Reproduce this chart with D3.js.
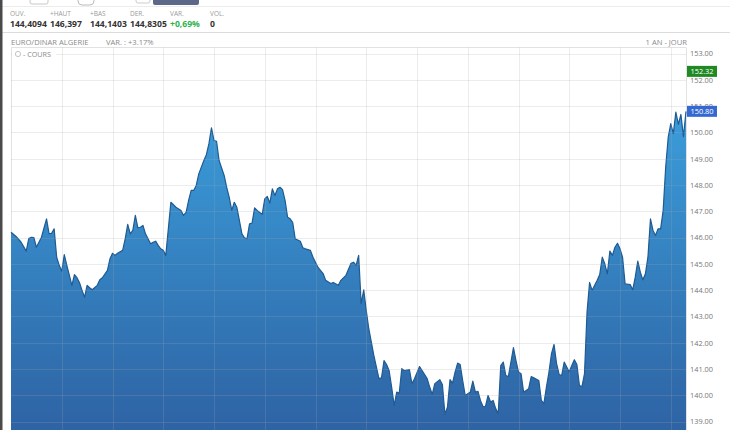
<!DOCTYPE html>
<html>
<head>
<meta charset="utf-8">
<script src="https://cdn.jsdelivr.net/npm/d3@7"></script>
<style>
  body { margin: 0; background: #fff; }
  svg { display: block; font-family: "Open Sans", "Liberation Sans", sans-serif; }
</style>
</head>
<body>
<script>
// séance index (trading days over the year) and closing rate EUR/DZD
let seance = [0,2,4,6,7,8,9,10,11,12,14,15,16,17,18,19,20,21,22,24,25,26,27,28,29,30,31,32,34,35,36,38,39,40,41,42,44,45,46,47,48,49,50,51,52,53,55,56,57,58,59,60,61,63,65,67,68,69,70,71,72,73,74,76,77,78,79,80,81,82,84,85,86,87,88,89,90,91,92,93,94,95,96,97,99,100,101,102,103,104,105,106,107,108,109,110,111,112,114,115,116,118,119,121,123,124,126,127,129,130,132,134,135,136,137,138,139,140,141,142,143,145,146,147,148,149,150,151,152,153,154,155,157,158,159,161,162,164,165,166,167,169,170,171,172,173,174,175,176,177,178,179,181,182,183,184,185,186,187,188,189,190,191,192,193,194,195,196,198,199,200,201,202,203,204,205,206,208,209,210,211,212,213,214,215,216,217,218,220,221,222,223,224,225,226,227,228,229,231,232,233,234,235,236,237,238,239,240,241,242,244,245,246,247,248,249,250,251,252,253,254,255,256,257,258,259,260,261,262,263,264,265,266];
let cours = [146.20,146.04,145.82,145.48,145.96,146.01,146.00,145.63,145.82,146.01,146.71,146.15,146.16,146.33,145.25,144.94,144.72,145.35,144.94,144.18,144.59,144.47,144.28,143.99,143.73,144.18,144.09,144.01,144.18,144.39,144.47,144.75,145.19,145.40,145.32,145.40,145.51,145.95,146.50,146.14,146.27,146.84,146.37,146.39,146.46,146.14,145.76,145.82,145.86,145.70,145.57,145.51,145.32,147.34,147.15,147.03,146.84,146.96,147.41,147.79,147.79,147.98,148.42,148.93,149.15,149.57,150.17,149.69,149.66,148.93,148.36,147.91,147.53,147.03,147.34,147.15,146.65,146.14,145.99,145.95,146.52,146.55,147.13,147.03,146.88,147.47,147.56,147.31,147.85,147.60,147.85,147.91,147.82,147.41,146.77,146.71,146.58,145.95,145.86,145.61,145.57,145.51,145.25,144.86,144.63,144.37,144.25,144.29,144.18,144.37,144.56,145.02,145.06,144.94,145.32,143.48,144.01,143.22,142.53,142.02,141.51,140.63,140.66,141.32,141.17,140.94,140.31,139.61,140.12,140.08,141.01,140.94,140.97,140.44,140.63,141.09,140.94,140.63,140.31,140.03,140.44,140.59,140.41,139.27,139.55,140.59,140.46,140.88,141.22,141.17,140.56,139.99,140.12,140.54,140.12,140.15,139.80,139.57,139.58,139.99,139.74,139.80,139.49,139.30,141.13,141.26,140.75,140.71,141.81,141.32,140.88,140.82,140.12,140.18,140.25,140.71,140.66,140.56,139.80,139.68,140.31,140.88,141.58,141.93,141.20,140.79,140.75,141.26,140.88,141.13,141.35,141.17,140.37,140.33,140.82,143.16,144.29,143.99,144.37,144.59,145.25,145.00,144.62,145.48,145.32,145.63,145.78,145.57,145.25,144.24,144.21,144.01,144.49,145.10,144.68,144.39,144.62,145.25,146.71,146.27,146.08,146.33,146.33,147.03,148.68,149.82,150.33,149.95,150.77,150.30,150.68,149.84,150.80];

let yTicks = [139,140,141,142,143,144,145,146,147,148,149,150,151,152,153];
let statLabels = ["OUV.","+HAUT","+BAS","DER.","VAR.","VOL."];
let statValues = ["144,4094","146,397","144,1403","144,8305","+0,69%","0"];
let plusHaut = 152.32;

let width = 730, height = 430;
let data = seance.map((s,i)=>({s:s, v:cours[i]}));

let svg = d3.select("body")
            .append("svg")
            .attr("width",width)
            .attr("height",height);

let x = d3.scaleLinear().domain([0,266]).range([11,686]);
let y = d3.scaleLinear().domain([139,153]).range([421.5,53.5]);
let statX = d3.scalePoint().domain(statLabels).range([10,210]);

// top toolbar remnants
svg.append("rect").attr("x",30).attr("y",-6).attr("width",18).attr("height",10).attr("rx",2)
   .attr("fill","#fff").attr("stroke","#c8c8c8");
svg.append("rect").attr("x",78).attr("y",-6).attr("width",16).attr("height",11).attr("rx",4)
   .attr("fill","#fff").attr("stroke","#bbb");
svg.append("rect").attr("x",136).attr("y",-6).attr("width",14).attr("height",9).attr("rx",2)
   .attr("fill","#fff").attr("stroke","#ccc");
svg.append("rect").attr("x",153).attr("y",-6).attr("width",46).attr("height",11).attr("rx",2)
   .attr("fill","#5b6887");
svg.append("line").attr("x1",0).attr("x2",width).attr("y1",6.5).attr("y2",6.5)
   .attr("stroke","#ececec");

// stats row
svg.selectAll(".slab").data(statLabels).enter().append("text")
   .attr("x",d=>statX(d)).attr("y",15.5)
   .attr("font-size",6.5).attr("fill","#9a9a9a")
   .text(d=>d);
svg.selectAll(".sval").data(statValues).enter().append("text")
   .attr("x",(d,i)=>statX(statLabels[i])).attr("y",26.5)
   .attr("font-size",8.6).attr("font-weight","bold")
   .attr("fill",(d,i)=>i==4 ? "#2db34a" : "#333")
   .text(d=>d);

svg.append("line").attr("x1",0).attr("x2",width).attr("y1",32.5).attr("y2",32.5)
   .attr("stroke","#dcdcdc");

let hdr = {size:7.6, fill:"#8a8a8a"};
svg.append("text").attr("x",11).attr("y",44.8).attr("font-size",hdr.size).attr("fill",hdr.fill)
   .text("EURO/DINAR ALGERIE");
svg.append("text").attr("x",106).attr("y",44.8).attr("font-size",hdr.size).attr("fill",hdr.fill)
   .text("VAR. : +3.17%");
svg.append("text").attr("x",687).attr("y",44.8).attr("font-size",hdr.size).attr("fill",hdr.fill)
   .attr("text-anchor","end").text("1 AN - JOUR");

// plot frame + grid
svg.append("line").attr("x1",11).attr("x2",686).attr("y1",47.5).attr("y2",47.5).attr("stroke","#e2e2e2");
svg.append("line").attr("x1",686.5).attr("x2",686.5).attr("y1",47.5).attr("y2",height).attr("stroke","#e2e2e2");
svg.append("line").attr("x1",11.5).attr("x2",11.5).attr("y1",47.5).attr("y2",height).attr("stroke","#e2e2e2");

let grad = svg.append("defs").append("linearGradient")
   .attr("id","fillGrad").attr("gradientUnits","userSpaceOnUse")
   .attr("x1",0).attr("x2",0).attr("y1",110).attr("y2",height);
grad.append("stop").attr("offset","0%").attr("stop-color","#3b9dda");
grad.append("stop").attr("offset","100%").attr("stop-color","#2e63a4");

let area = d3.area().x(d=>x(d.s)).y0(height).y1(d=>y(d.v));
let line = d3.line().x(d=>x(d.s)).y(d=>y(d.v));

svg.append("path").datum(data).attr("d",area).attr("fill","url(#fillGrad)");
svg.append("path").datum(data).attr("d",line)
   .attr("fill","none").attr("stroke","#1f5b93").attr("stroke-width",1.2)
   .attr("stroke-linejoin","round");

let grid = svg.append("g").attr("stroke","#aaa").attr("stroke-opacity",0.22);
grid.selectAll("line.h").data(yTicks).enter().append("line")
   .attr("x1",11).attr("x2",686)
   .attr("y1",d=>Math.round(y(d))+0.5).attr("y2",d=>Math.round(y(d))+0.5);
grid.selectAll("line.v").data(d3.range(20,267,20)).enter().append("line")
   .attr("x1",d=>Math.round(x(d))+0.5).attr("x2",d=>Math.round(x(d))+0.5)
   .attr("y1",47.5).attr("y2",height);

// legend
svg.append("rect").attr("x",12).attr("y",49).attr("width",44).attr("height",10).attr("fill","#fff");
svg.append("circle").attr("cx",18).attr("cy",54).attr("r",2.6)
   .attr("fill","#fff").attr("stroke","#c4c4c4");
svg.append("text").attr("x",23).attr("y",56.6).attr("font-size",7.2).attr("fill","#8a8a8a")
   .text("- COURS");

// right axis
let axis = svg.append("g").attr("transform","translate(686,0)")
   .call(d3.axisRight(y).tickValues(yTicks).tickSize(0).tickPadding(4).tickFormat(d3.format(".2f")));
axis.select(".domain").remove();
axis.selectAll("text").attr("font-size",7.4).attr("fill","#777")
   .attr("font-family","'Open Sans', sans-serif");

// price tags (drawn over the axis, as in the source)
let tags = [{v:plusHaut, c:"#1f8a22"}, {v:cours[cours.length-1], c:"#3569d2"}];
let tg = svg.selectAll(".tag").data(tags).enter().append("g");
tg.append("rect").attr("x",687).attr("y",d=>y(d.v)-5.5).attr("width",30).attr("height",11)
   .attr("fill",d=>d.c);
tg.append("text").attr("x",702).attr("y",d=>y(d.v)+2.6).attr("text-anchor","middle")
   .attr("font-size",7.4).attr("fill","#fff").text(d=>d.v.toFixed(2));

// left dark edge
svg.append("rect").attr("x",0).attr("y",0).attr("width",2.5).attr("height",height).attr("fill","#4a4a4a");
</script>
</body>
</html>
